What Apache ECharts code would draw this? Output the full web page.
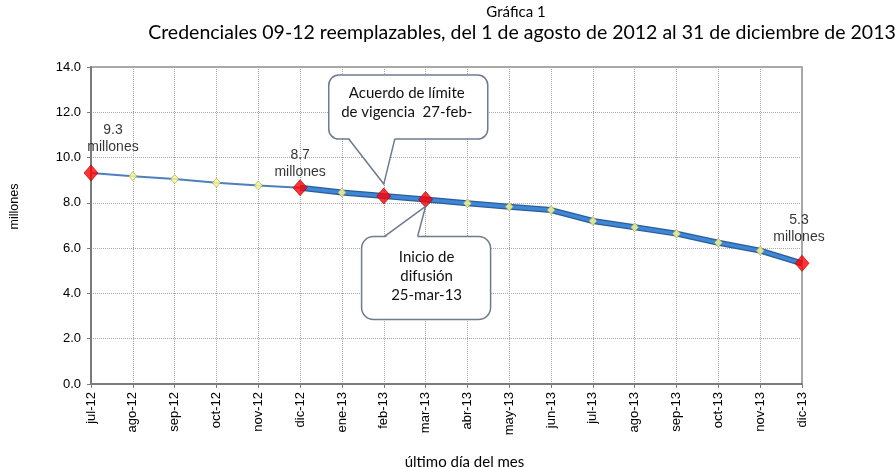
<!DOCTYPE html>
<html>
<head>
<meta charset="utf-8">
<script src="https://cdn.jsdelivr.net/npm/echarts@6/dist/echarts.min.js"></script>
<style>
  html, body { margin: 0; padding: 0; background: #fff; }
  #chart { width: 896px; height: 467px; }
</style>
</head>
<body>
<div id="chart"></div>
<script>
// meses (último día del mes)
const meses = ['jul-12', 'ago-12', 'sep-12', 'oct-12', 'nov-12', 'dic-12', 'ene-13', 'feb-13', 'mar-13',
  'abr-13', 'may-13', 'jun-13', 'jul-13', 'ago-13', 'sep-13', 'oct-13', 'nov-13', 'dic-13']
// credenciales 09-12 reemplazables, millones
const credenciales = [9.32, 9.18, 9.05, 8.89, 8.77, 8.67, 8.46, 8.30, 8.15,
  7.98, 7.83, 7.68, 7.20, 6.92, 6.64, 6.24, 5.89, 5.33]
// puntos destacados (rojos)
const hitos = ['jul-12', 'dic-12', 'feb-13', 'mar-13', 'dic-13']
const etiquetas = { 'jul-12': '9.3\nmillones', 'dic-12': '8.7\nmillones', 'dic-13': '5.3\nmillones' }
const inicioGrueso = 'dic-12'
const yTicks = [0, 2, 4, 6, 8, 10, 12, 14]

const labelOffset = { 'jul-12': [22, 1], 'dic-12': [0, 11], 'dic-13': [-3, 1] }

const chart = echarts.init(document.getElementById('chart'))

const gruesoIdx = meses.indexOf(inicioGrueso)
const grueso = credenciales.map((v, i) => i >= gruesoIdx ? v : null)
const amarillos = meses.map((m, i) => hitos.includes(m) ? null : credenciales[i])
const rojos = meses.map((m, i) => {
  if (!hitos.includes(m)) return null
  const item = { value: credenciales[i] }
  if (etiquetas[m]) {
    item.label = {
      show: true,
      position: 'top',
      distance: 10,
      offset: labelOffset[m],
      formatter: etiquetas[m]
    }
  }
  return item
})

chart.setOption({
  animation: false,
  title: [
    {
      text: 'Gráfica 1',
      left: 511,
      textAlign: 'center',
      top: 0,
      textStyle: { fontFamily: 'Lato', fontSize: 15, fontWeight: 'normal', color: '#000' }
    },
    {
      text: 'Credenciales 09-12 reemplazables, del 1 de agosto de 2012 al 31 de diciembre de 2013',
      left: 517,
      textAlign: 'center',
      top: 18,
      textStyle: { fontFamily: 'Lato', fontSize: 19.5, fontWeight: 'normal', color: '#000' }
    }
  ],
  grid: {
    left: 91,
    right: 94,
    top: 67,
    bottom: 83,
    outerBoundsMode: 'none',
    show: true,
    borderColor: '#8c8c8c',
    borderWidth: 1.5
  },
  xAxis: {
    type: 'category',
    data: meses,
    boundaryGap: false,
    name: 'último día del mes',
    nameLocation: 'middle',
    nameGap: 71,
    nameTextStyle: { fontFamily: 'Lato', fontSize: 15, color: '#000', padding: [0, 0, 0, 36] },
    axisLine: { lineStyle: { color: '#7a7a7a', width: 2 } },
    axisTick: { show: true, length: 4, interval: 0, lineStyle: { color: '#7a7a7a' } },
    axisLabel: {
      rotate: 90,
      interval: 0,
      margin: 8,
      fontFamily: 'Liberation Sans',
      fontSize: 13,
      color: '#000'
    },
    splitLine: { show: true, interval: 0, lineStyle: { color: '#a8a8a8', type: 'dotted', width: 1 } }
  },
  yAxis: {
    type: 'value',
    min: yTicks[0],
    max: yTicks[yTicks.length - 1],
    interval: 2,
    name: 'millones',
    nameLocation: 'middle',
    nameGap: 70,
    nameTextStyle: { fontFamily: 'Liberation Sans', fontSize: 12.5, color: '#000', padding: [0, 0, 0, 38] },
    axisLine: { show: true, lineStyle: { color: '#7a7a7a', width: 2 } },
    axisTick: { show: true, length: 4, lineStyle: { color: '#7a7a7a' } },
    axisLabel: {
      margin: 10,
      fontFamily: 'Liberation Sans',
      fontSize: 13,
      color: '#000',
      formatter: v => v.toFixed(1)
    },
    splitLine: { show: true, lineStyle: { color: '#a8a8a8', type: 'dotted', width: 1 } }
  },
  series: [
    {
      name: 'tendencia',
      type: 'line',
      data: credenciales,
      symbol: 'none',
      lineStyle: { color: '#4f7fbf', width: 2 },
      z: 2
    },
    {
      name: 'borde',
      type: 'line',
      data: grueso,
      symbol: 'none',
      lineStyle: { color: '#2d5d96', width: 6 },
      z: 3
    },
    {
      name: 'grueso',
      type: 'line',
      data: grueso,
      symbol: 'none',
      lineStyle: { color: '#3d86d8', width: 3.5 },
      z: 4
    },
    {
      name: 'mensual',
      type: 'scatter',
      data: amarillos,
      symbol: 'diamond',
      symbolSize: [8, 9],
      itemStyle: { color: '#ffff8c', borderColor: '#9a9a60', borderWidth: 0.8 },
      z: 5
    },
    {
      name: 'hitos',
      type: 'scatter',
      data: rojos,
      symbol: 'diamond',
      symbolSize: [14, 16],
      itemStyle: { color: '#ff0000', borderColor: '#a00000', borderWidth: 0.8 },
      label: {
        fontFamily: 'Liberation Sans',
        fontSize: 14,
        lineHeight: 17,
        color: '#000',
        align: 'center'
      },
      z: 6
    }
  ]
})

// llamadas (callouts) ancladas a los puntos feb-13 y mar-13
const pFeb = chart.convertToPixel({ seriesIndex: 0 }, ['feb-13', credenciales[meses.indexOf('feb-13')]])
const pMar = chart.convertToPixel({ seriesIndex: 0 }, ['mar-13', credenciales[meses.indexOf('mar-13')]])

const c1 = { x: pFeb[0], y: pFeb[1] - 12 }
const c2 = { x: pMar[0], y: pMar[1] + 7 }
const stroke = '#6d7b8d'
const calloutText = { fontFamily: 'Lato', fontSize: 15, lineHeight: 19, fill: '#111', align: 'center', verticalAlign: 'middle' }

function callout(box, a, tip, b, text, tx, ty) {
  // box: [x, y, w, h, r]; a/b: base points of the pointer on the box edge
  const inward = tip[1] > box[1] ? -1.5 : 1.5
  return [
    {
      type: 'rect',
      shape: { x: box[0], y: box[1], width: box[2], height: box[3], r: box[4] },
      style: { fill: '#fff', stroke: stroke, lineWidth: 1.5 },
      z: 20
    },
    {
      type: 'polygon',
      shape: { points: [[a[0], a[1] + inward], tip, [b[0], b[1] + inward]] },
      style: { fill: '#fff' },
      z: 21
    },
    {
      type: 'polyline',
      shape: { points: [a, tip, b] },
      style: { fill: null, stroke: stroke, lineWidth: 1.5 },
      z: 22
    },
    {
      type: 'text',
      x: tx,
      y: ty,
      style: Object.assign({ text: text }, calloutText),
      z: 23
    }
  ]
}

const b1 = [c1.x - 55, c1.y - 109, 159, 64, 10]
const b2 = [c2.x - 64, c2.y + 30, 129, 83, 12]

chart.setOption({
  graphic: [].concat(
    callout(b1, [c1.x + 11, b1[1] + b1[3]], [c1.x, c1.y], [c1.x - 35, b1[1] + b1[3]],
      'Acuerdo de límite\nde vigencia  27-feb-', c1.x + 23, c1.y - 81),
    callout(b2, [c2.x - 41, b2[1]], [c2.x, c2.y], [c2.x - 8, b2[1]],
      'Inicio de\ndifusión\n25-mar-13', c2.x + 1, c2.y + 70)
  )
})
</script>
</body>
</html>
